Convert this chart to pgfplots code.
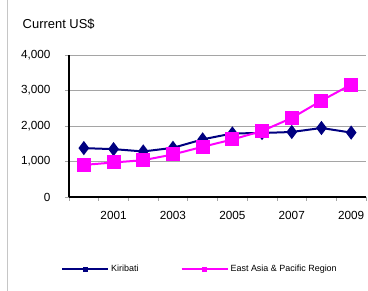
\documentclass[border=0pt]{standalone}
\usepackage{pgfplots}
\pgfplotsset{compat=1.18}
\usepackage{fontspec}
\setmainfont{Liberation Sans}
\definecolor{kir}{RGB}{0,0,128}
\definecolor{eap}{RGB}{255,0,255}
\definecolor{gridc}{RGB}{165,165,165}
\begin{document}
\begin{tikzpicture}[x=1bp,y=1bp]
\useasboundingbox (0,0) rectangle (368,291);
\draw[gray!45, line width=0.8bp] (7.5,0) -- (7.5,291);
\node[anchor=base west, font=\fontsize{13}{15}\selectfont, inner sep=0pt] at (22.5,263) {Current US\$};
\begin{axis}[
  at={(69bp,94bp)}, anchor=south west, scale only axis,
  width=297bp, height=142bp,
  xmin=-0.5, xmax=9.5, ymin=0, ymax=4000,
  clip=false,
  axis x line=bottom, axis y line=left,
  axis line style={-, black, line width=1.2bp},
  xtick={-0.5,0.5,...,9.5}, xticklabels={},
  extra x ticks={1,3,5,7,9},
  extra x tick labels={2001,2003,2005,2007,2009},
  extra x tick style={major tick length=0pt},
  ytick={0,1000,2000,3000,4000},
  scaled y ticks=false,
  ymajorgrids, major grid style={gridc, line width=0.9bp},
  tick align=outside, major tick length=4bp,
  tick style={gridc, line width=0.8bp},
  /pgf/number format/assume math mode=true,
  /pgf/number format/1000 sep={,},
  tick label style={font=\fontsize{11.8}{13}\selectfont},
  yticklabel style={xshift=-11bp},
  xticklabel style={yshift=-11bp},
  legend columns=2,
  legend style={at={(axis description cs:-0.037,-0.51)}, anchor=west,
    draw=none, fill=none, font=\fontsize{9}{11}\selectfont,
    /tikz/every even column/.append style={column sep=40bp}},
  legend image code/.code={%
    \draw[#1, mark=none] (0bp,0bp) -- (46bp,0bp);
    \fill[#1, mark=none] (21.6bp,-1.6bp) rectangle (24.4bp,1.6bp);},
]
\addplot[kir, line width=2bp, mark=diamond*, mark size=5.5bp] coordinates {
(0,1377) (1,1348) (2,1283) (3,1385) (4,1623) (5,1790) (6,1803) (7,1831) (8,1944) (9,1814)};
\addlegendentry{Kiribati}
\addplot[eap, line width=2bp, mark=square*, mark size=6bp] coordinates {
(0,904) (1,972) (2,1037) (3,1198) (4,1414) (5,1620) (6,1859) (7,2225) (8,2715) (9,3166)};
\addlegendentry{East Asia \& Pacific Region}
\end{axis}
\end{tikzpicture}
\end{document}
